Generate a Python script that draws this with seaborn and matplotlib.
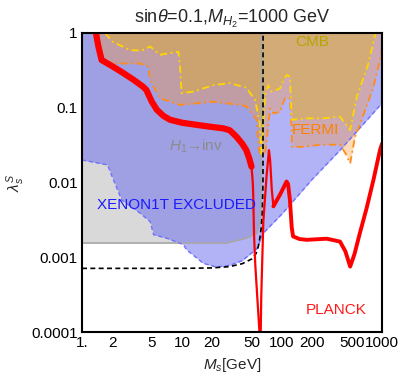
import numpy as np
import pandas as pd
import seaborn as sns
import matplotlib.pyplot as plt

# region boundaries (x in GeV, y = lambda_s^S)
gray_x = [1, 28, 44, 56, 60, 61.6, 62, 62.3]
gray_y = [0.00155, 0.00155, 0.0018, 0.0021, 0.0029, 0.0048, 0.01, 1.0]

xenon_x = [1, 1.8, 2.0, 2.5, 3.8, 4.8, 5.2, 7, 10.3, 11.1, 16.3, 22, 30, 40, 56, 65,
           100, 200, 380, 1000]
xenon_y = [0.02, 0.0172, 0.012, 0.0058, 0.0039, 0.003, 0.002, 0.0018, 0.00148, 0.00126,
           0.00083, 0.00074, 0.00078, 0.0009, 0.0013, 0.0021, 0.0038, 0.011, 0.027, 0.115]

fermi_x = [1.3, 1.35, 1.51, 1.9, 3.8, 4.6, 4.8, 6, 9.5, 20.5, 38, 44, 56, 58, 62, 68, 76,
           82, 95, 107, 120, 125, 125.5, 166, 240, 380, 430, 480, 537, 625, 820, 955, 1000]
fermi_y = [1.0, 0.89, 0.435, 0.39, 0.39, 0.355, 0.235, 0.134, 0.109, 0.12, 0.109, 0.104,
           0.069, 0.03, 0.022, 0.025, 0.098, 0.084, 0.088, 0.134, 0.134, 0.05, 0.03, 0.03,
           0.032, 0.032, 0.0246, 0.018, 0.041, 0.069, 0.19, 0.435, 0.6]

cmb_x = [1.7, 2.0, 3.0, 3.95, 4.8, 6, 9.2, 9.55, 9.9, 12.9, 20.5, 30, 44, 53.7, 60, 62,
         65, 68, 72.8, 78, 95, 111, 120, 125, 177, 259, 380, 479, 560, 730, 860]
cmb_y = [1.0, 0.77, 0.59, 0.58, 0.66, 0.51, 0.56, 0.355, 0.157, 0.164, 0.2, 0.213, 0.185,
         0.127, 0.062, 0.0245, 0.06, 0.15, 0.2, 0.164, 0.18, 0.275, 0.26, 0.069, 0.072,
         0.072, 0.076, 0.05, 0.14, 0.39, 1.0]

dash_x = [1, 10, 20, 30, 40, 50, 55, 58, 60, 62, 63.5, 64.5, 64.6]
dash_y = [0.00071, 0.00071, 0.00072, 0.00075, 0.00082, 0.00095, 0.00112, 0.0014, 0.0018,
          0.0025, 0.004, 0.01, 1.0]

# PLANCK relic curve, split where the drawn band changes width
planck_a_x = [1.38, 1.42, 1.46, 1.57, 2.0, 2.6, 3.3, 4.1, 4.4, 5.0, 5.6, 6.5, 7.6, 10, 14,
              20.5, 25.8, 30, 35, 40, 44, 47, 49.5]
planck_a_y = [1.0, 0.8, 0.656, 0.435, 0.36, 0.29, 0.235, 0.19, 0.173, 0.12, 0.094, 0.078,
              0.069, 0.063, 0.059, 0.055, 0.053, 0.05, 0.041, 0.033, 0.027, 0.021, 0.0163]
planck_b_x = [49.5, 51, 51.5, 52.5, 54, 56.5, 59.5, 60.5, 61, 62, 65, 70, 74, 76, 79, 82]
planck_b_y = [0.0163, 0.01, 0.007, 0.002, 0.0008, 0.0003, 0.0001, 0.00007, 0.00007, 0.0003,
              0.003, 0.012, 0.027, 0.02, 0.008, 0.0048]
planck_c_x = [82, 95, 111, 115, 120, 125, 129, 150, 177, 280, 380, 430, 480, 530, 600, 700,
              820, 955, 1000]
planck_c_y = [0.0048, 0.0068, 0.0103, 0.0095, 0.0058, 0.0025, 0.0019, 0.00175, 0.00171,
              0.00177, 0.00162, 0.0012, 0.00075, 0.0011, 0.0021, 0.0045, 0.0108, 0.0273, 0.033]

xticks = [1, 2, 5, 10, 20, 50, 100, 200, 500, 1000]
xticklabels = ['1.', '2', '5', '10', '20', '50', '100', '200', '500', '1000']
yticks = [0.0001, 0.001, 0.01, 0.1, 1]
yticklabels = ['0.0001', '0.001', '0.01', '0.1', '1']

sns.set_style('white')
plt.rcParams['font.family'] = ['Liberation Sans', 'DejaVu Sans']
plt.rcParams['mathtext.fontset'] = 'custom'
plt.rcParams['mathtext.rm'] = 'Liberation Sans'
plt.rcParams['mathtext.it'] = 'Liberation Sans:italic'

fig = plt.figure(figsize=(3.99, 3.79), dpi=100)
ax = fig.add_axes([0.2055, 0.124, 0.752, 0.789])
ax.set_xscale('log')
ax.set_yscale('log')

# H1 -> inv (gray)
ax.fill_between(gray_x, gray_y, 1, color='#d9d9d9', lw=0)
sns.lineplot(x=gray_x, y=gray_y, ax=ax, color='#a8a8a8', lw=1.2, sort=False, estimator=None)

# XENON1T (blue)
ax.fill_between(xenon_x, xenon_y, 1, color='#6666ee', alpha=0.5, lw=0)
sns.lineplot(x=xenon_x, y=xenon_y, ax=ax, color='#7070ff', lw=1, ls=(0, (3, 2)),
             sort=False, estimator=None)

# FERMI (orange)
ax.fill_between(fermi_x, fermi_y, 1, color='#ff9933', alpha=0.35, lw=0)
sns.lineplot(x=fermi_x, y=fermi_y, ax=ax, color='#ff8c1a', lw=1.3, ls=(0, (4, 2, 1, 2)),
             sort=False, estimator=None)

# CMB (yellow)
ax.fill_between(cmb_x, cmb_y, 1, color='#e0b020', alpha=0.4, lw=0)
sns.lineplot(x=cmb_x, y=cmb_y, ax=ax, color='#ffd700', lw=1.3, ls=(0, (4, 2, 1, 2)),
             sort=False, estimator=None)

# dashed black
sns.lineplot(x=dash_x, y=dash_y, ax=ax, color='black', lw=1.2, ls=(0, (3, 2)),
             sort=False, estimator=None)

# PLANCK
sns.lineplot(x=planck_a_x, y=planck_a_y, ax=ax, color='red', lw=4.5, sort=False,
             estimator=None)
sns.lineplot(x=planck_b_x, y=planck_b_y, ax=ax, color='red', lw=1.6, sort=False,
             estimator=None)
sns.lineplot(x=planck_c_x, y=planck_c_y, ax=ax, color='red', lw=2.8, sort=False,
             estimator=None, solid_capstyle='round')

ax.set_xlim(1, 1000)
ax.set_ylim(0.0001, 1)
ax.set_xticks(xticks)
ax.set_xticklabels(xticklabels)
ax.set_yticks(yticks)
ax.set_yticklabels(yticklabels)
ax.minorticks_off()
ax.tick_params(direction='in', length=4, width=1, labelsize=11, colors='black', pad=3)

for s in ax.spines.values():
    s.set_linewidth(1.5)
    s.set_color('black')

ax.text(311.7, 10**(-(41.7 - 33) / 74.8), 'CMB', color='#b3a600', fontsize=11,
        ha='center', va='center')
ax.text(315, 10**(-(130 - 33) / 74.8), 'FERMI', color='#ff8000', fontsize=11,
        ha='center', va='center')
ax.text(196, 10**(-(146.7 - 33) / 74.8), r'$H_1$→inv', color='#8c8c8c', fontsize=11,
        ha='center', va='center')
ax.text(176, 10**(-(205 - 33) / 74.8), 'XENON1T EXCLUDED', color='#1a1aff', fontsize=11,
        ha='center', va='center')
ax.text(336, 10**(-(310 - 33) / 74.8), 'PLANCK', color='#ff1a1a', fontsize=11,
        ha='center', va='center')

# the text x positions above are in pixels; convert to data
for t in ax.texts:
    px, y = t.get_position()
    t.set_position((10**((px - 82) / 100), y))

ax.set_title(r'sin$\theta$=0.1,$M_{H_2}$=1000 GeV', fontsize=13, pad=7)
ax.set_xlabel(r'$M_s$[GeV]', fontsize=11, labelpad=4)
ax.set_ylabel(r'$\lambda_s^S$', fontsize=11, labelpad=3)

plt.savefig('out.png', dpi=100)
plt.close()
